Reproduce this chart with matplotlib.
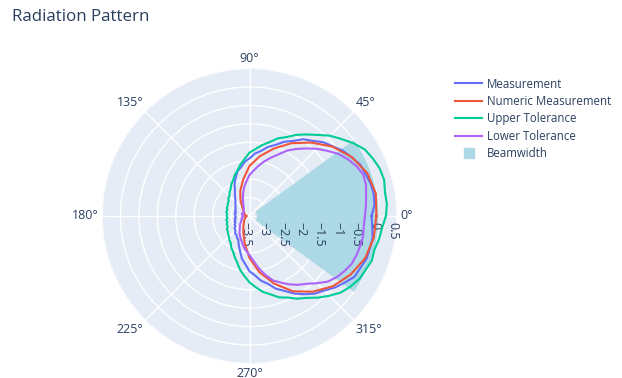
import numpy as np
import matplotlib
matplotlib.use("Agg")
import matplotlib.pyplot as plt
from matplotlib.lines import Line2D
from matplotlib.transforms import offset_copy

plt.rcParams['font.family'] = ['Open Sans', 'DejaVu Sans']

# gain in dB, sampled every 10 deg (numeric model) and every 5 deg (measured)
numeric_deg = np.arange(0, 360, 10)
numeric = [-0.06, -0.02, -0.10, -0.30, -0.57, -0.90, -1.22, -1.55, -1.85, -2.14,
           -2.50, -2.77, -3.01, -3.20, -3.28, -3.34, -3.36, -3.39, -3.43, -3.41,
           -3.38, -3.35, -3.31, -3.26, -3.17, -3.01, -2.74, -2.36, -1.95, -1.55,
           -1.14, -0.82, -0.54, -0.33, -0.16, -0.08]

meas_deg = np.arange(0, 360, 5)
measurement = [-0.19, -0.10, -0.08, -0.10, -0.16, -0.19, -0.31, -0.41, -0.56, -0.67,
               -0.84, -0.96, -1.15, -1.28, -1.45, -1.56, -1.71, -1.80, -1.94, -2.02,
               -2.16, -2.24, -2.40, -2.54, -2.71, -2.81, -2.90, -2.96, -3.00, -3.04,
               -3.05, -3.09, -3.08, -3.12, -3.09, -3.12, -3.11, -3.13, -3.09, -3.11,
               -3.07, -3.08, -3.03, -3.03, -2.97, -2.96, -2.89, -2.88, -2.82, -2.78,
               -2.65, -2.51, -2.32, -2.19, -2.00, -1.89, -1.72, -1.60, -1.40, -1.26,
               -1.07, -0.91, -0.75, -0.64, -0.48, -0.35, -0.21, -0.18, -0.12, -0.12,
               -0.11, -0.16]
upper_tol = [0.20, 0.24, 0.23, 0.28, 0.26, 0.19, 0.11, -0.06, -0.25, -0.42,
             -0.63, -0.80, -0.96, -1.14, -1.26, -1.43, -1.55, -1.68, -1.78, -1.95,
             -2.08, -2.23, -2.32, -2.44, -2.51, -2.61, -2.66, -2.73, -2.75, -2.81,
             -2.82, -2.85, -2.84, -2.88, -2.86, -2.89, -2.88, -2.90, -2.86, -2.88,
             -2.84, -2.85, -2.79, -2.78, -2.74, -2.71, -2.65, -2.61, -2.51, -2.44,
             -2.32, -2.20, -2.02, -1.87, -1.70, -1.56, -1.41, -1.30, -1.15, -1.06,
             -0.91, -0.79, -0.61, -0.44, -0.27, -0.16, -0.07, -0.03, 0.03, 0.01,
             0.07, 0.11]
lower_tol = [-0.37, -0.33, -0.29, -0.23, -0.22, -0.30, -0.42, -0.56, -0.75, -0.92,
             -1.11, -1.28, -1.45, -1.66, -1.82, -1.97, -2.12, -2.27, -2.39, -2.55,
             -2.69, -2.84, -2.97, -3.09, -3.17, -3.22, -3.26, -3.28, -3.30, -3.31,
             -3.31, -3.30, -3.30, -3.28, -3.30, -3.31, -3.35, -3.31, -3.30, -3.28,
             -3.28, -3.26, -3.24, -3.22, -3.17, -3.13, -3.09, -3.03, -2.96, -2.89,
             -2.82, -2.74, -2.63, -2.54, -2.44, -2.28, -2.06, -1.85, -1.64, -1.51,
             -1.36, -1.22, -1.10, -0.92, -0.73, -0.61, -0.52, -0.44, -0.41, -0.39,
             -0.37, -0.39]

# beamwidth sector
beam_center = 0.0
beam_width = 72.0
beam_inner = -3.3
beam_outer = 0.0

r_min, r_max = -3.5, 0.5
r_ticks = [-3.5, -3, -2.5, -2, -1.5, -1, -0.5, 0, 0.5]
theta_ticks = [0, 45, 90, 135, 180, 225, 270, 315]

txt = '#2a3f5f'


def closed(deg, vals):
    deg = np.append(deg, 360)
    vals = np.append(vals, vals[0])
    return np.deg2rad(deg), vals


fig = plt.figure(figsize=(6.22, 3.78), dpi=100)
ax = fig.add_axes([0.164, 0.0384, 0.4743, 0.7804], projection='polar')
ax.set_facecolor('#e5ecf6')
ax.spines['polar'].set_visible(False)
ax.set_axisbelow(True)
ax.grid(color='white', lw=1)
ax.set_rlim(r_min, r_max)
ax.set_rticks(r_ticks)
ax.set_yticklabels([])
ax.set_thetagrids(theta_ticks, [''] * len(theta_ticks))

ax.bar(np.deg2rad(beam_center), beam_outer - beam_inner, width=np.deg2rad(beam_width),
       bottom=beam_inner, color='#add8e6', edgecolor='none', zorder=1)

t, r = closed(meas_deg, measurement)
ax.plot(t, r, color='#636efa', lw=1.5, zorder=3)
t, r = closed(numeric_deg, numeric)
ax.plot(t, r, color='#EF553B', lw=1.5, zorder=3)
t, r = closed(meas_deg, upper_tol)
ax.plot(t, r, color='#00cc96', lw=1.5, zorder=3)
t, r = closed(meas_deg, lower_tol)
ax.plot(t, r, color='#ab63fa', lw=1.5, zorder=3)

# angle labels just outside the rim, aligned by their inner edge
for a in theta_ticks:
    c, s = np.cos(np.deg2rad(a)), np.sin(np.deg2rad(a))
    ha = 'left' if c > 0.1 else ('right' if c < -0.1 else 'center')
    va = 'bottom' if s > 0.1 else ('top' if s < -0.1 else 'center')
    tr = offset_copy(ax.transData, fig=fig, x=3 * c, y=3.5 * s, units='dots')
    ax.text(np.deg2rad(a), r_max, f'{a}°', transform=tr, ha=ha, va=va,
            fontsize=9, color=txt, clip_on=False)

# radial tick labels, rotated, under the 0 deg axis
lab_tr = offset_copy(ax.transData, fig=fig, x=-4, y=-6, units='dots')
for v in r_ticks:
    s = f'{v:g}'.replace('-', '\u2212')
    ax.text(0, v, s, transform=lab_tr, rotation=-90, ha='center', va='top',
            fontsize=9, color=txt, zorder=2)

fig.text(12 / 622, 1 - 17 / 378, 'Radiation Pattern', fontsize=12.2, color=txt,
         ha='left', va='center')

handles = [Line2D([], [], color='#636efa', lw=1.5),
           Line2D([], [], color='#EF553B', lw=1.5),
           Line2D([], [], color='#00cc96', lw=1.5),
           Line2D([], [], color='#ab63fa', lw=1.5),
           Line2D([], [], color='#add8e6', marker='s', ls='none', markersize=7.5)]
labels = ['Measurement', 'Numeric Measurement', 'Upper Tolerance', 'Lower Tolerance', 'Beamwidth']
leg = fig.legend(handles, labels, loc='upper left', bbox_to_anchor=(455 / 622, 1 - 77.5 / 378),
                 frameon=False, fontsize=8.3, handlelength=2.35, handletextpad=0.45,
                 labelspacing=0.38, borderpad=0, borderaxespad=0)
for tx in leg.get_texts():
    tx.set_color(txt)

fig.savefig('out.png', dpi=100)
